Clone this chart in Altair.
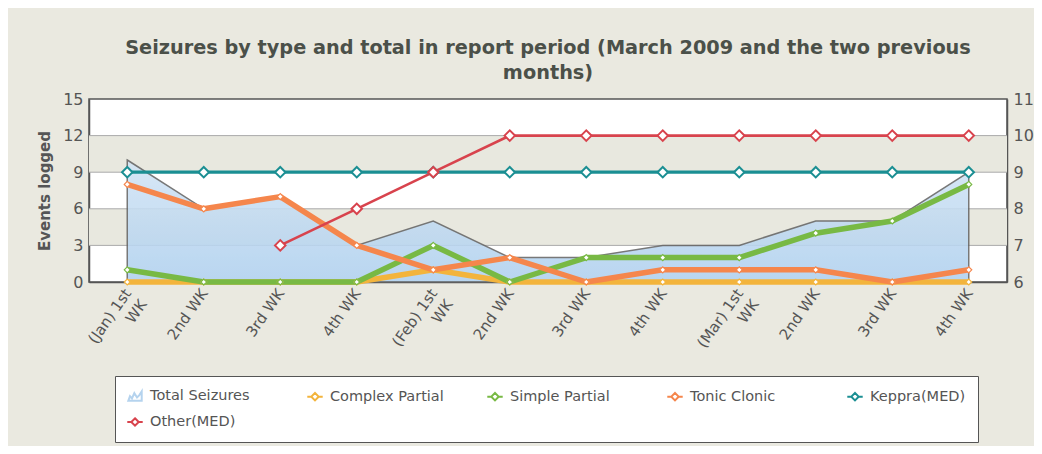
import json
import altair as alt
import pandas as pd

# ---------------- data ----------------
week_labels = ["(Jan) 1st|WK", "2nd WK", "3rd WK", "4th WK", "(Feb) 1st|WK", "2nd WK",
               "3rd WK", "4th WK", "(Mar) 1st|WK", "2nd WK", "3rd WK", "4th WK"]
total_seizures = [10, 6, 7, 3, 5, 2, 2, 3, 3, 5, 5, 9]
complex_partial = [0, 0, 0, 0, 1, 0, 0, 0, 0, 0, 0, 0]
simple_partial = [1, 0, 0, 0, 3, 0, 2, 2, 2, 4, 5, 8]
tonic_clonic = [8, 6, 7, 3, 1, 2, 0, 1, 1, 1, 0, 1]
keppra_med = [9, 9, 9, 9, 9, 9, 9, 9, 9, 9, 9, 9]
other_med = [None, None, 7, 8, 9, 10, 10, 10, 10, 10, 10, 10]

series_names = ["Total Seizures", "Complex Partial", "Simple Partial", "Tonic Clonic",
                "Keppra(MED)", "Other(MED)"]
series_colors = ["#b5d3ee", "#f3b43c", "#78b944", "#f5864c", "#1b8f93", "#d8434d"]

left_ticks = [0, 3, 6, 9, 12, 15]
right_ticks = [6, 7, 8, 9, 10, 11]
band_lo = [3, 9]
band_hi = [6, 12]

# ---------------- tables ----------------
idx = list(range(len(week_labels)))
total_df = pd.DataFrame({"week": idx, "value": total_seizures})

left_rows = []
for name, vals in [("Complex Partial", complex_partial), ("Simple Partial", simple_partial),
                   ("Tonic Clonic", tonic_clonic)]:
    for i, v in enumerate(vals):
        left_rows.append({"week": i, "series": name, "value": v})
left_df = pd.DataFrame(left_rows)

right_rows = []
for name, vals in [("Keppra(MED)", keppra_med), ("Other(MED)", other_med)]:
    for i, v in enumerate(vals):
        if v is not None:
            right_rows.append({"week": i, "series": name, "value": v})
right_df = pd.DataFrame(right_rows)

bands_df = pd.DataFrame({"lo": band_lo, "hi": band_hi})
grid_df = pd.DataFrame({"tick": left_ticks[1:-1]})

FONT = "DejaVu Sans"
label_expr = "split(" + json.dumps(week_labels) + "[datum.value], '|')"

x_enc = alt.X("week:O", title=None,
              scale=alt.Scale(paddingOuter=0.62),
              axis=alt.Axis(labelExpr=label_expr, labelAngle=305, labelAlign="right",
                            labelBaseline="middle", labelFontSize=15, labelFont=FONT,
                            labelColor="#555555", labelLineHeight=19, labelPadding=8,
                            labelOverlap=False,
                            ticks=False, domain=True, domainColor="#555555",
                            domainWidth=1.5, grid=False))

y_left_scale = alt.Scale(domain=[0, 15], nice=False, zero=True)
y_right_scale = alt.Scale(domain=[6, 11], nice=False, zero=False)

color_scale = alt.Scale(domain=series_names, range=series_colors)

legend = alt.Legend(
    title=None, orient="none", legendX=26, legendY=277, direction="horizontal",
    columns=5, gridAlign="all", columnPadding=39, rowPadding=9, padding=12,
    fillColor="white", strokeColor="#555555", labelFont=FONT, labelFontSize=14.5,
    labelColor="#555555", symbolSize=180, symbolStrokeWidth=2, labelOffset=7,
    symbolType=alt.ExprRef(
        "datum.value === 'Total Seizures' ? "
        "'M-1,0.7L-0.75,0L-0.45,0.35L-0.1,-0.45L0.3,0.2L0.65,-0.15L1,-0.7L1,0.7Z' : "
        "'M-1.15,0H-0.55M0.55,0H1.15M0,-0.55L0.55,0L0,0.55L-0.55,0Z'"),
    symbolFillColor=alt.ExprRef(
        "datum.value === 'Total Seizures' ? '#b5d3ee' : 'white'"),
)

left_axis = alt.Axis(values=left_ticks, tickCount=6, orient="left", grid=False,
                     ticks=False, domain=True, domainColor="#555555",
                     domainWidth=1.5, labelFontSize=16, labelFont=FONT,
                     labelColor="#555555", labelPadding=6, labelOverlap=False,
                     titleFont=FONT, title="Events logged",
                     titleFontSize=15, titleFontWeight="bold", titleColor="#555555",
                     titlePadding=10)

bands = alt.Chart(bands_df).mark_rect(color="#e8e8df").encode(
    y=alt.Y("lo:Q", scale=y_left_scale, axis=left_axis, title="Events logged"),
    y2="hi:Q",
)

grid = alt.Chart(grid_df).mark_rule(color="#aaaaaa", strokeWidth=1).encode(
    y=alt.Y("tick:Q", scale=y_left_scale, axis=left_axis, title="Events logged"),
)

area = alt.Chart(total_df).mark_area(
    color=alt.Gradient(gradient="linear",
                       stops=[alt.GradientStop(color="#d3e5f5", offset=0),
                              alt.GradientStop(color="#afd0ef", offset=1)],
                       x1=1, x2=1, y1=0, y2=1),
    stroke="#666666", strokeWidth=1.5, opacity=0.88,
).encode(
    x=x_enc,
    y=alt.Y("value:Q", scale=y_left_scale, title="Events logged", axis=left_axis),
)

left_lines = alt.Chart(left_df).mark_line(strokeWidth=5.5, strokeJoin="round").encode(
    x=alt.X("week:O"),
    y=alt.Y("value:Q", scale=y_left_scale, axis=left_axis, title="Events logged"),
    color=alt.Color("series:N", scale=color_scale, legend=legend),
    detail="series:N",
)
left_points = alt.Chart(left_df).mark_point(
    shape="diamond", filled=False, fill="white", size=36, strokeWidth=1.2, opacity=1
).encode(
    x=alt.X("week:O"),
    y=alt.Y("value:Q", scale=y_left_scale, axis=left_axis, title="Events logged"),
    color=alt.Color("series:N", scale=color_scale, legend=legend),
)

right_axis = alt.Axis(values=right_ticks, tickCount=6, orient="right", grid=False, ticks=False,
                      domain=True, domainColor="#555555", domainWidth=1.5,
                      labelFontSize=16, labelFont=FONT, labelColor="#555555",
                      labelPadding=6, labelOverlap=False, title=None)

right_lines = alt.Chart(right_df).mark_line().encode(
    x=alt.X("week:O"),
    y=alt.Y("value:Q", scale=y_right_scale, axis=right_axis),
    color=alt.Color("series:N", scale=color_scale, legend=legend),
    strokeWidth=alt.StrokeWidth("series:N", scale=alt.Scale(domain=["Keppra(MED)", "Other(MED)"],
                                                               range=[3.2, 2.6]), legend=None),
)
right_points = alt.Chart(right_df).mark_point(
    shape="diamond", filled=False, fill="white", size=110, strokeWidth=2, opacity=1
).encode(
    x=alt.X("week:O"),
    y=alt.Y("value:Q", scale=y_right_scale, axis=right_axis),
    color=alt.Color("series:N", scale=color_scale, legend=legend),
)

left = alt.layer(bands, grid, area, left_lines, left_points)
right = alt.layer(right_lines, right_points)

chart = alt.layer(left, right).resolve_scale(y="independent").properties(
    width=918, height=183,
    title=alt.Title(
        ["Seizures by type and total in report period (March 2009 and the two previous",
         "months)"],
        font=FONT, fontSize=19.3, fontWeight="bold", color="#4b5049", anchor="middle",
        lineHeight=25, offset=8),
    autosize=alt.AutoSizeParams(type="none"),
    padding={"left": 81, "top": 91, "right": 27, "bottom": 164},
    background="#eae9e0",
).configure_view(stroke="#555555", strokeWidth=1.5, fill="white"
).configure_axis(labelOverlap=False)

chart.save("out.html", embed_options={"renderer": "svg", "actions": False})
